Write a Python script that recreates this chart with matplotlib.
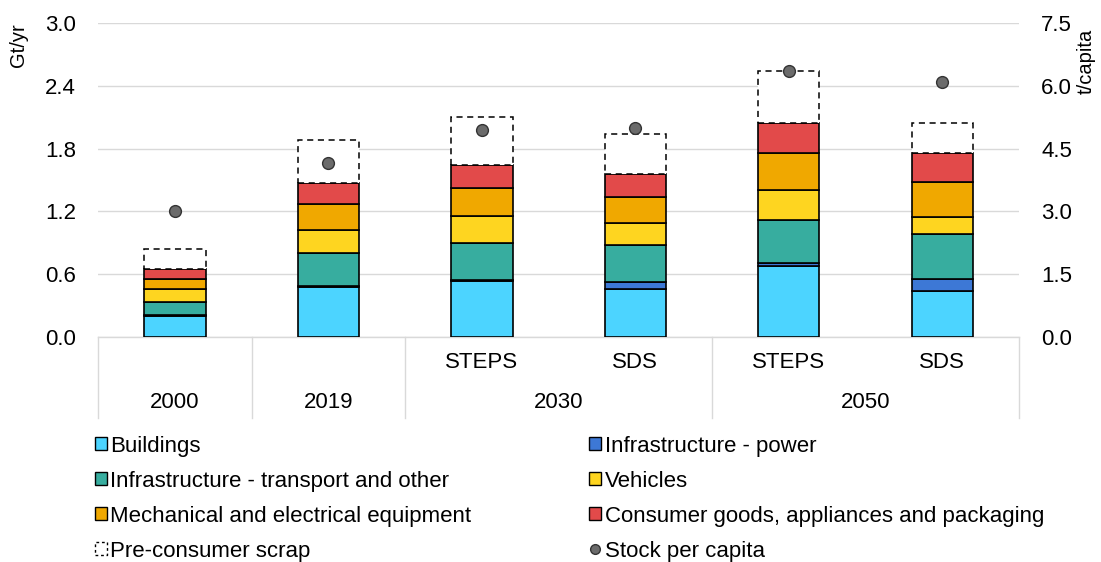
import numpy as np
import matplotlib.pyplot as plt
from matplotlib.patches import Patch
from matplotlib.lines import Line2D

plt.rcParams['font.family'] = ['Liberation Sans', 'DejaVu Sans']

# bar positions: 2000, 2019, 2030 STEPS, 2030 SDS, 2050 STEPS, 2050 SDS
scenarios = ['', '', 'STEPS', 'SDS', 'STEPS', 'SDS']
years = ['2000', '2019', '2030', '2050']
year_span = [(0, 0), (1, 1), (2, 3), (4, 5)]

buildings = [0.20, 0.48, 0.535, 0.46, 0.675, 0.435]
power = [0.005, 0.01, 0.01, 0.065, 0.035, 0.12]
transport = [0.13, 0.315, 0.35, 0.35, 0.41, 0.425]
vehicles = [0.12, 0.22, 0.26, 0.21, 0.28, 0.165]
mechanical = [0.10, 0.25, 0.265, 0.25, 0.355, 0.335]
consumer = [0.093, 0.20, 0.225, 0.225, 0.295, 0.28]
scrap = [0.19, 0.41, 0.455, 0.385, 0.49, 0.285]
stock = [3.0, 4.15, 4.95, 5.0, 6.35, 6.1]

names = ['Buildings', 'Infrastructure - power', 'Infrastructure - transport and other',
         'Vehicles', 'Mechanical and electrical equipment',
         'Consumer goods, appliances and packaging']
colors = ['#4cd4ff', '#3d78d6', '#37ad9f', '#fed520', '#f0a800', '#e24a4a']
series = [buildings, power, transport, vehicles, mechanical, consumer]

fs = 16
fig = plt.figure(figsize=(11.01, 5.62), dpi=100)
ax = fig.add_axes([0.0893, 0.4009, 0.8362, 0.5576])
x = np.arange(len(scenarios))
w = 0.40

bottom = np.zeros(len(x))
for vals, c in zip(series, colors):
    ax.bar(x, vals, w, bottom=bottom, color=c, edgecolor='black', linewidth=1.2, zorder=3)
    bottom += np.array(vals)
ax.bar(x, scrap, w, bottom=bottom, facecolor='white', edgecolor='black',
       linewidth=1.1, linestyle=(0, (4, 3)), zorder=3)

ax.set_xlim(-0.5, 5.5)
ax.set_ylim(0, 3.0)
ax.set_yticks(np.arange(0, 3.01, 0.6))
ax.set_yticklabels([f'{v:.1f}' for v in np.arange(0, 3.01, 0.6)])
ax.grid(axis='y', color='#d9d9d9', linewidth=1, zorder=0)
ax.set_xticks([])
for s in ax.spines.values():
    s.set_visible(False)
ax.tick_params(axis='y', length=0, pad=16, labelsize=fs)
ax.set_ylabel('Gt/yr', fontsize=14.5)
ax.yaxis.set_label_coords(-0.076, 0.93)

ax2 = ax.twinx()
ax2.plot(x, stock, 'o', color='#6b6b6b', markeredgecolor='#333333',
         markersize=8.5, zorder=5)
ax2.set_ylim(0, 7.5)
ax2.set_yticks(np.arange(0, 7.51, 1.5))
ax2.set_yticklabels([f'{v:.1f}' for v in np.arange(0, 7.51, 1.5)])
for s in ax2.spines.values():
    s.set_visible(False)
ax2.tick_params(axis='y', length=0, pad=16, labelsize=fs)
ax2.set_ylabel('t/capita', fontsize=14.5)
ax2.yaxis.set_label_coords(1.063, 0.88)

# category axis
tr = ax.get_xaxis_transform()
ax.plot([-0.5, 5.5], [0, 0], color='#d9d9d9', lw=1, transform=tr, clip_on=False)
for b in [-0.5, 0.5, 1.5, 3.5, 5.5]:
    ax.plot([b, b], [0, -0.26], color='#d9d9d9', lw=1, transform=tr, clip_on=False)
for xi, s in zip(x, scenarios):
    ax.text(xi, -0.083, s, ha='center', va='center', fontsize=fs, transform=tr)
for yr, (a, b) in zip(years, year_span):
    ax.text((a + b) / 2, -0.211, yr, ha='center', va='center', fontsize=fs, transform=tr)

# legend in two columns
h = [Patch(facecolor=c, edgecolor='black', linewidth=1) for c in colors]
scrap_h = Patch(facecolor='white', edgecolor='black', linewidth=1, linestyle=(0, (2, 2)))
dot_h = Line2D([], [], marker='o', color='#6b6b6b', markeredgecolor='#333333',
               linestyle='none', markersize=7)
left_h = [h[0], h[2], h[4], scrap_h]
left_l = [names[0], names[2], names[4], 'Pre-consumer scrap']
right_h = [h[1], h[3], h[5], dot_h]
right_l = [names[1], names[3], names[5], 'Stock per capita']
kw = dict(frameon=False, fontsize=fs, handlelength=0.55, handleheight=0.55,
          handletextpad=0.15, labelspacing=0.63, borderpad=0, borderaxespad=0,
          loc='upper left')
leg1 = fig.legend(left_h, left_l, bbox_to_anchor=(0.086, 0.225), **kw)
leg2 = fig.legend(right_h, right_l, bbox_to_anchor=(0.535, 0.225), **kw)

fig.savefig('out.png', dpi=100)
